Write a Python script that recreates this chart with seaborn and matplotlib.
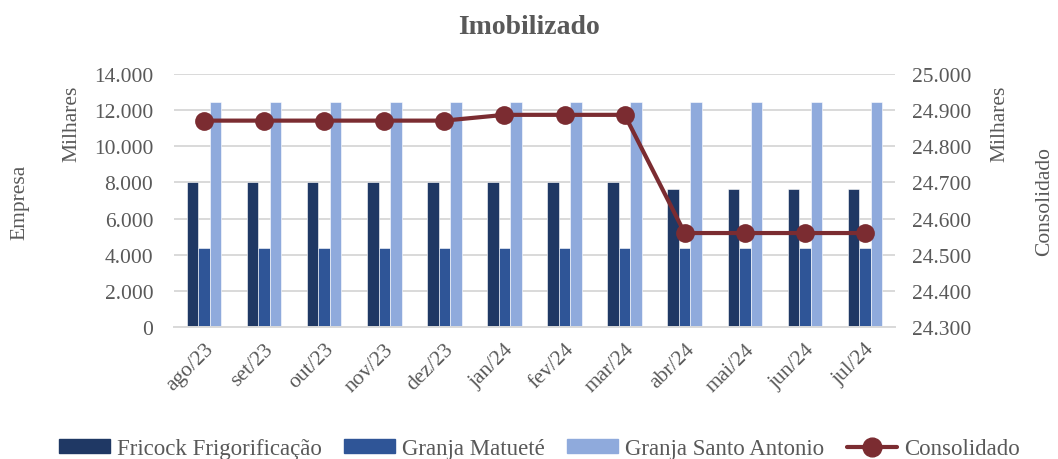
import numpy as np
import pandas as pd
import seaborn as sns
import matplotlib.pyplot as plt
from matplotlib.lines import Line2D
from matplotlib.ticker import FuncFormatter, MultipleLocator

meses = ["ago/23", "set/23", "out/23", "nov/23", "dez/23", "jan/24",
         "fev/24", "mar/24", "abr/24", "mai/24", "jun/24", "jul/24"]
fricock = [8000, 8000, 8000, 8000, 8000, 8000, 8000, 8000, 7640, 7640, 7640, 7640]
matuete = [4350, 4350, 4350, 4350, 4350, 4350, 4350, 4350, 4350, 4350, 4350, 4350]
santo_antonio = [12470, 12470, 12470, 12470, 12470, 12470, 12470, 12470, 12470, 12470, 12470, 12470]
consolidado = [24871, 24871, 24871, 24871, 24871, 24887, 24887, 24887, 24560, 24560, 24560, 24560]

empresas = ["Fricock Frigorificação", "Granja Matueté", "Granja Santo Antonio"]
cores = ["#1F3864", "#2F5597", "#8FAADC"]
cor_linha = "#7B2C31"
cinza = "#595959"
fs = 15.5

sns.set_theme(style="white")
plt.rcParams["font.family"] = ["Liberation Serif", "DejaVu Serif"]

df = pd.DataFrame({
    "mes": meses * 3,
    "valor": fricock + matuete + santo_antonio,
    "empresa": [e for e in empresas for _ in meses],
})

fig = plt.figure(figsize=(10.58, 4.6), dpi=100)
ax = fig.add_axes([174 / 1058, 1 - 328 / 460, 721 / 1058, 253 / 460])

sns.barplot(data=df, x="mes", y="valor", hue="empresa", palette=cores, saturation=1,
            width=0.575, gap=0, edgecolor="white", linewidth=0.4, ax=ax)
ax.get_legend().remove()
ax.set_ylim(0, 14000)
ax.set_xlim(-0.5, 11.5)
ax.yaxis.set_major_locator(MultipleLocator(2000))
ax.yaxis.set_major_formatter(FuncFormatter(lambda v, p: f"{v:,.0f}".replace(",", ".")))
ax.grid(axis="y", color="#D9D9D9", linewidth=1.4)
ax.set_axisbelow(True)
for s in ["top", "left", "right"]:
    ax.spines[s].set_visible(False)
ax.spines["bottom"].set_color("#D9D9D9")
ax.spines["bottom"].set_linewidth(1.4)
ax.set_xlabel("")
ax.set_ylabel("")
ax.tick_params(axis="y", length=0, labelsize=fs, labelcolor=cinza, pad=15)
ax.tick_params(axis="x", which="major", length=0, labelsize=fs, labelcolor=cinza, pad=9)
ax.set_xticks(np.arange(-0.5, 12, 1), minor=True)
ax.tick_params(axis="x", which="minor", length=6, color="#D9D9D9", width=1.4)
plt.setp(ax.get_xticklabels(), rotation=45, ha="right", rotation_mode="anchor")

ax2 = ax.twinx()
sns.lineplot(x=np.arange(len(meses)), y=consolidado, color=cor_linha, linewidth=3,
             marker="o", markersize=13.5, markeredgewidth=0, ax=ax2)
ax2.set_ylim(24300, 25000)
ax2.yaxis.set_major_locator(MultipleLocator(100))
ax2.yaxis.set_major_formatter(FuncFormatter(lambda v, p: f"{v:,.0f}".replace(",", ".")))
ax2.tick_params(axis="y", length=0, labelsize=fs, labelcolor=cinza, pad=12)
for s in ax2.spines.values():
    s.set_visible(False)
ax2.set_xlim(-0.5, 11.5)

fig.text(0.5, 1 - 27 / 460, "Imobilizado", ha="center", va="center",
         fontsize=20, fontweight="bold", color=cinza)
fig.text(20 / 1058, 1 - 202 / 460, "Empresa", rotation=90, ha="center", va="center",
         fontsize=fs, color=cinza)
fig.text(72 / 1058, 1 - 124 / 460, "Milhares", rotation=90, ha="center", va="center",
         fontsize=fs, color=cinza)
fig.text(1000 / 1058, 1 - 124 / 460, "Milhares", rotation=90, ha="center", va="center",
         fontsize=fs, color=cinza)
fig.text(1045 / 1058, 1 - 202 / 460, "Consolidado", rotation=90, ha="center", va="center",
         fontsize=fs, color=cinza)

handles = [plt.Rectangle((0, 0), 1, 1, color=c) for c in cores]
handles.append(Line2D([0], [0], color=cor_linha, linewidth=3, marker="o", markersize=13.5))
leg = fig.legend(handles, empresas + ["Consolidado"], loc="center", ncol=4,
                 bbox_to_anchor=(0.51, 1 - 450 / 460), frameon=False, fontsize=16.5,
                 handlelength=2.2, handleheight=0.55, handletextpad=0.3, columnspacing=1.0)
for t in leg.get_texts():
    t.set_color(cinza)

plt.savefig("out.png", dpi=100)
plt.close()
